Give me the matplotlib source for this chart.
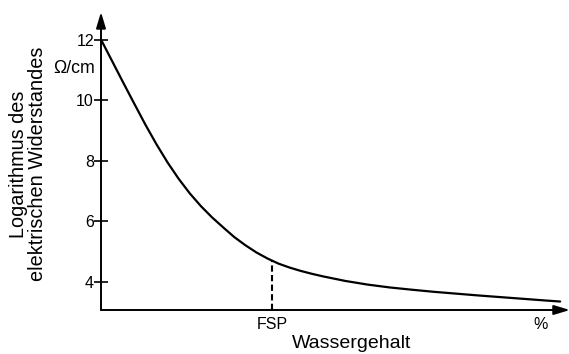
import matplotlib
matplotlib.use("Agg")
import matplotlib.pyplot as plt

plt.rcParams["font.family"] = ["Liberation Sans", "DejaVu Sans"]

# Electrical resistance of wood vs. moisture content (schematic)
water_content = [0, 2.5, 5, 7.5, 10, 12.5, 15, 17.5, 20, 22.5, 25, 27.5, 30, 32.5,
                 35, 37.5, 40, 42.5, 45, 47.5, 50, 55, 60, 65, 70, 75, 80, 85, 90,
                 95, 100, 103.4]
log_resistance = [12.00, 11.29, 10.58, 9.88, 9.19, 8.54, 7.94, 7.40, 6.92, 6.50,
                  6.13, 5.80, 5.48, 5.21, 4.97, 4.77, 4.60, 4.47, 4.36, 4.265,
                  4.18, 4.03, 3.91, 3.815, 3.74, 3.67, 3.61, 3.55, 3.495, 3.44,
                  3.385, 3.35]

fsp_x = 38.5
fsp_y = 4.70

y_ticks = [4, 6, 8, 10, 12]
x_ticks = [fsp_x, 99.1]
x_ticklabels = ["FSP", "%"]

W, H = 569, 354
fig = plt.figure(figsize=(W / 100, H / 100), dpi=100)
ax = fig.add_axes([101 / W, (H - 310) / H, (W - 101) / W, (310 - 12) / H])
ax.set_xlim(0, 105.4)
ax.set_ylim(3.07, 12.91)

for side in ["top", "right", "left", "bottom"]:
    ax.spines[side].set_visible(False)

# axes drawn as arrows
arrow = dict(arrowstyle="-|>,head_length=0.6,head_width=0.18", color="black",
             lw=1.4, mutation_scale=16, shrinkA=0, shrinkB=0)
ax.annotate("", xy=(0, 1), xytext=(0, 0), xycoords="axes fraction", arrowprops=arrow,
            annotation_clip=False)
ax.annotate("", xy=(1.002, 0), xytext=(0, 0), xycoords="axes fraction", arrowprops=arrow,
            annotation_clip=False)

ax.plot(water_content, log_resistance, color="black", lw=1.6, solid_capstyle="round",
        solid_joinstyle="round", clip_on=False)
ax.plot([fsp_x, fsp_x], [ax.get_ylim()[0], fsp_y], color="black", lw=1.5,
        linestyle=(0, (3, 1.6)))

ax.set_yticks(y_ticks)
ax.set_yticklabels([str(t) for t in y_ticks])
ax.tick_params(axis="y", direction="inout", length=9.5, width=1.2, pad=0.3,
               labelsize=11.5)
ax.set_xticks(x_ticks)
ax.set_xticklabels(x_ticklabels)
ax.tick_params(axis="x", length=0, pad=5, labelsize=11.5)

ax.text(-0.013, 0.812, "Ω/cm", transform=ax.transAxes, ha="right", va="center",
        fontsize=12.8)

ax.set_xlabel("Wassergehalt", fontsize=14)
ax.xaxis.set_label_coords(0.536, -0.085)

fig.text(28 / W, 1 - 164 / H, "Logarithmus des\nelektrischen Widerstandes",
         rotation=90, ha="center", va="center", multialignment="center",
         fontsize=14.3, linespacing=1.05)

fig.savefig("out.png", dpi=100)
